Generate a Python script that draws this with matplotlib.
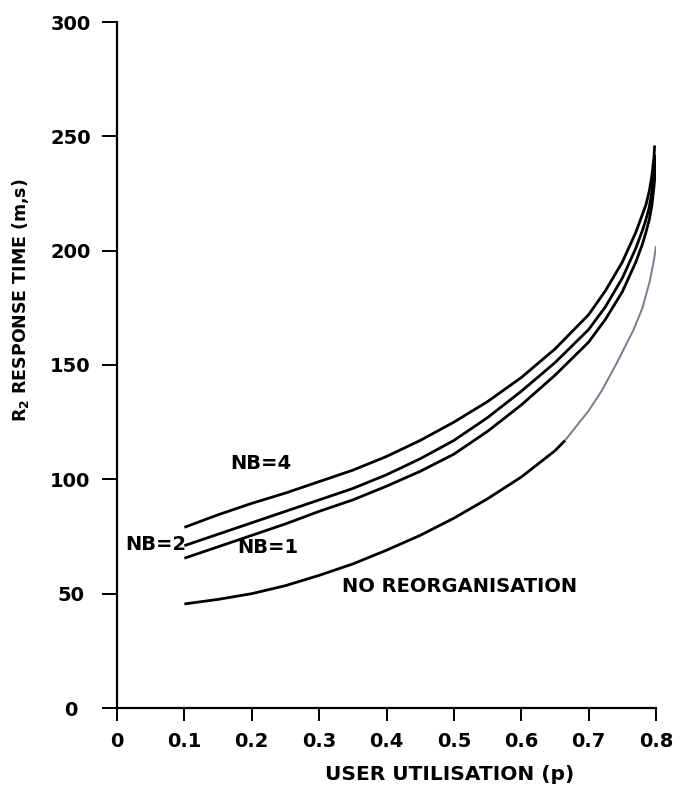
import matplotlib
matplotlib.use("Agg")
import matplotlib.pyplot as plt

# --- data ---
p_nb4 = [0.10, 0.15, 0.20, 0.25, 0.30, 0.35, 0.40, 0.45, 0.50, 0.55, 0.60,
         0.65, 0.70, 0.725, 0.75, 0.77, 0.78, 0.785, 0.79, 0.794, 0.797, 0.798]
nb4 = [79, 84.5, 89.5, 94, 99, 104, 110, 117, 125, 134, 144.5,
       157, 172, 182.5, 195, 208, 216, 220, 226, 233, 241, 246]

p_nb2 = [0.10, 0.15, 0.20, 0.25, 0.30, 0.35, 0.40, 0.45, 0.50, 0.55, 0.60,
         0.65, 0.70, 0.725, 0.75, 0.77, 0.78, 0.785, 0.79, 0.794, 0.797, 0.799]
nb2 = [71, 76, 81, 86, 91, 96, 102, 109, 117, 127, 138.5,
       151, 165.5, 175.5, 188, 201, 209, 213.5, 219, 226, 234, 242]

p_nb1 = [0.10, 0.15, 0.20, 0.25, 0.30, 0.35, 0.40, 0.45, 0.50, 0.55, 0.60,
         0.65, 0.70, 0.725, 0.75, 0.77, 0.78, 0.785, 0.79, 0.794, 0.797, 0.80]
nb1 = [65.5, 70.5, 75.5, 80.5, 86, 91, 97, 103.5, 111, 121, 132.5,
       145.5, 160, 170, 182, 195, 203, 208, 213.5, 220, 228, 238]

p_noreorg_dark = [0.10, 0.15, 0.20, 0.25, 0.30, 0.35, 0.40, 0.45, 0.50,
                  0.55, 0.60, 0.65, 0.665]
noreorg_dark = [45.5, 47.5, 50, 53.5, 58, 63, 69, 75.5, 83,
                91.5, 101, 112.5, 117]
p_noreorg_light = [0.665, 0.70, 0.72, 0.742, 0.766, 0.78, 0.791, 0.797, 0.80]
noreorg_light = [117, 130, 139, 151, 165, 175, 187, 196, 202]

x_ticks = [0, 0.1, 0.2, 0.3, 0.4, 0.5, 0.6, 0.7, 0.8]
x_tick_labels = ["0", "0.1", "0.2", "0.3", "0.4", "0.5", "0.6", "0.7", "0.8"]
y_ticks = [0, 50, 100, 150, 200, 250, 300]
y_tick_labels = ["0", "50", "100", "150", "200", "250", "300"]

# --- figure ---
fig = plt.figure(figsize=(6.81, 7.88), dpi=100)
ax = fig.add_axes([117 / 681, 1 - 708 / 788, (656 - 117) / 681, (708 - 22) / 788])

lw = 2.0
for px, py in [(p_nb4, nb4), (p_nb2, nb2), (p_nb1, nb1),
               (p_noreorg_dark, noreorg_dark)]:
    ax.plot(px, py, color="black", lw=lw, solid_capstyle="butt",
            solid_joinstyle="round")
ax.plot(p_noreorg_light, noreorg_light, color="#7a7a90", lw=1.4,
        solid_capstyle="butt")

ax.set_xlim(0, 0.8)
ax.set_ylim(0, 300)
ax.set_xticks(x_ticks)
ax.set_xticklabels(x_tick_labels)
ax.set_yticks(y_ticks)
ax.set_yticklabels(y_tick_labels)

for s in ["top", "right"]:
    ax.spines[s].set_visible(False)
for s in ["left", "bottom"]:
    ax.spines[s].set_linewidth(1.6)
ax.tick_params(axis="x", direction="out", length=9.5, width=1.4,
               labelsize=14, pad=8)
ax.tick_params(axis="y", direction="out", length=10.5, width=1.4,
               labelsize=14, pad=23)
for lab in ax.get_xticklabels() + ax.get_yticklabels():
    lab.set_fontweight("bold")
for lab in ax.get_yticklabels():
    lab.set_horizontalalignment("center")

ax.set_xlabel("USER UTILISATION (p)", fontsize=14.5, fontweight="bold")
ax.xaxis.set_label_coords(0.618, -0.083)
ax.set_ylabel("R$_\\mathbf{2}$ RESPONSE TIME (m,s)", fontsize=12.5,
              fontweight="bold")
ax.yaxis.set_label_coords(-0.16, 0.595)

txt = dict(fontsize=14, fontweight="bold", color="black",
           ha="center", va="center")
ax.text(0.214, 107, "NB=4", **txt)
ax.text(0.058, 71.3, "NB=2", **txt)
ax.text(0.224, 70, "NB=1", **txt)
ax.text(0.509, 53.3, "NO REORGANISATION", **txt)

fig.savefig("out.png", dpi=100)
